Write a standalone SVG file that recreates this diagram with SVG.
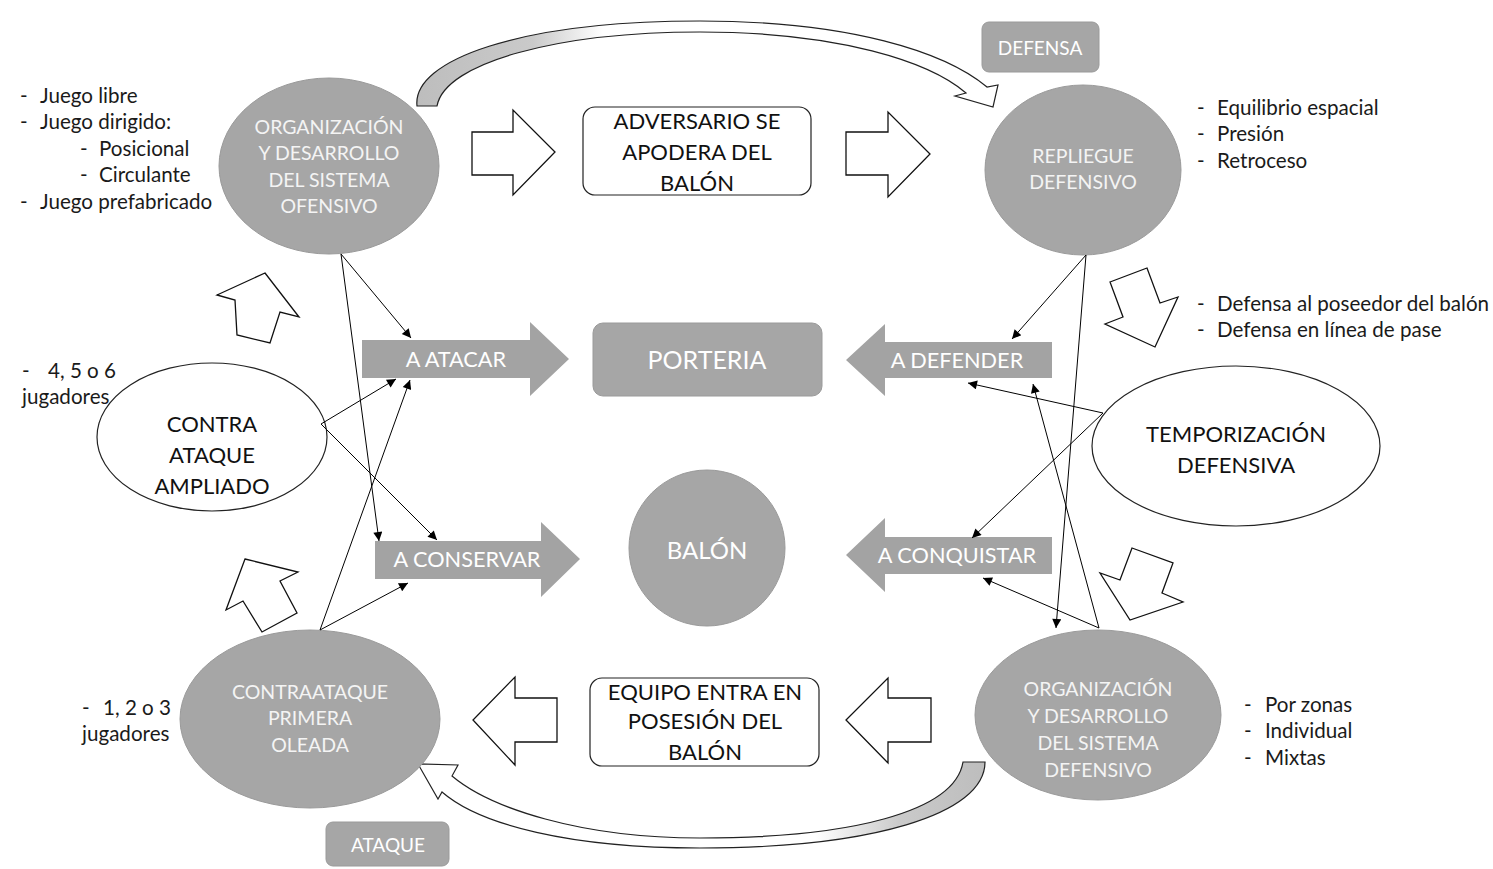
<svg xmlns="http://www.w3.org/2000/svg" width="1493" height="869" viewBox="0 0 1493 869">
  <defs>
    <style>
      text { font-family: Lato, "Open Sans", "Liberation Sans", sans-serif; }
      .gray { fill: #a6a6a6; stroke: #9a9a9a; stroke-width: 1; }
      .white { fill: #ffffff; stroke: #222222; stroke-width: 1.2; }
      .outline { fill: #ffffff; stroke: #111111; stroke-width: 1.3; stroke-linejoin: miter; }
      .band { stroke: #222222; stroke-width: 1.2; stroke-linejoin: miter; }
      .wt { fill: #f4f4f4; font-size: 19.5px; text-anchor: middle; }
      .bt { fill: #111111; font-size: 22px; text-anchor: middle; }
      .lst { fill: #1a1a1a; font-size: 20.6px; }
      .lbl { fill: #ffffff; font-size: 21.7px; text-anchor: middle; }
      .conn line { stroke: #000000; stroke-width: 1; marker-end: url(#tip); }
    </style>
    <marker id="tip" viewBox="0 0 10 10" refX="10" refY="5" markerWidth="11" markerHeight="9" markerUnits="userSpaceOnUse" orient="auto">
      <path d="M0,0 L10,5 L0,10 z" fill="#000000"/>
    </marker>
    <linearGradient id="shadeTop" x1="0" y1="0" x2="1" y2="0">
      <stop offset="0" stop-color="#bdbdbd"/>
      <stop offset="0.2" stop-color="#cacaca"/>
      <stop offset="0.32" stop-color="#ffffff"/>
    </linearGradient>
    <linearGradient id="shadeBottom" x1="1" y1="0" x2="0" y2="0">
      <stop offset="0" stop-color="#bdbdbd"/>
      <stop offset="0.15" stop-color="#cacaca"/>
      <stop offset="0.3" stop-color="#ffffff"/>
    </linearGradient>
  </defs>

  <rect x="0" y="0" width="1493" height="869" fill="#ffffff"/>

  <!-- curved cycle arrows -->
  <g id="curve-defensa">
    <path class="band" fill="url(#shadeTop)" d="M417,106 C412,60 520,21 700,21 C850,21 945,52 987,87 L998,85 L993,107 L955,96 L966,93 C930,62 840,32 700,32 C560,32 445,62 437,106 Z"/>
  </g>
  <g id="curve-ataque">
    <path class="band" fill="url(#shadeBottom)" d="M985,762 C985,815 870,848 700,848 C570,848 480,825 442,792 L438,799 L418,764 L458,765 L452,776 C490,808 580,838 700,838 C850,838 955,812 963,762 Z"/>
  </g>

  <!-- phase boxes -->
  <g id="box-defensa">
    <rect x="982" y="22" width="117" height="50" rx="7" class="gray" stroke="none"/>
    <text x="1040" y="54.5" class="lbl" style="font-size:19px">DEFENSA</text>
  </g>
  <g id="box-ataque">
    <rect x="326" y="822" width="123" height="44" rx="7" class="gray" stroke="none"/>
    <text x="388" y="851.5" class="lbl" style="font-size:19px">ATAQUE</text>
  </g>

  <!-- main phase ellipses -->
  <g id="org-ofensivo">
    <ellipse cx="329" cy="166" rx="110" ry="88" class="gray"/>
    <text class="wt"><tspan x="329" y="133.5">ORGANIZACIÓN</tspan><tspan x="329" y="160">Y DESARROLLO</tspan><tspan x="329" y="186.5">DEL SISTEMA</tspan><tspan x="329" y="213">OFENSIVO</tspan></text>
  </g>
  <g id="repliegue">
    <ellipse cx="1083" cy="170" rx="98" ry="85" class="gray"/>
    <text class="wt"><tspan x="1083" y="163">REPLIEGUE</tspan><tspan x="1083" y="189">DEFENSIVO</tspan></text>
  </g>
  <g id="contraataque">
    <ellipse cx="310" cy="719" rx="130" ry="89" class="gray"/>
    <text class="wt"><tspan x="310" y="699">CONTRAATAQUE</tspan><tspan x="310" y="725">PRIMERA</tspan><tspan x="310" y="752">OLEADA</tspan></text>
  </g>
  <g id="org-defensivo">
    <ellipse cx="1098" cy="715" rx="123" ry="85" class="gray"/>
    <text class="wt"><tspan x="1098" y="696">ORGANIZACIÓN</tspan><tspan x="1098" y="723">Y DESARROLLO</tspan><tspan x="1098" y="750">DEL SISTEMA</tspan><tspan x="1098" y="777">DEFENSIVO</tspan></text>
  </g>
  <g id="contra-ampliado">
    <ellipse cx="212" cy="437" rx="115" ry="74" class="white"/>
    <text class="bt"><tspan x="212" y="432">CONTRA</tspan><tspan x="212" y="463">ATAQUE</tspan><tspan x="212" y="494">AMPLIADO</tspan></text>
  </g>
  <g id="temporizacion">
    <ellipse cx="1236" cy="446" rx="144" ry="80" class="white"/>
    <text class="bt"><tspan x="1236" y="442">TEMPORIZACIÓN</tspan><tspan x="1236" y="473">DEFENSIVA</tspan></text>
  </g>

  <!-- centre -->
  <g id="porteria">
    <rect x="593" y="323" width="229" height="73" rx="10" class="gray" stroke="none"/>
    <text x="707" y="369" class="lbl" style="font-size:25px">PORTERIA</text>
  </g>
  <g id="balon">
    <circle cx="707" cy="548" r="78" class="gray"/>
    <text x="707" y="558.5" class="lbl" style="font-size:24px">BALÓN</text>
  </g>

  <!-- transition boxes -->
  <g id="adversario">
    <rect x="583" y="107" width="228" height="88" rx="12" class="white"/>
    <text class="bt"><tspan x="697" y="128.5">ADVERSARIO SE</tspan><tspan x="697" y="159.5">APODERA DEL</tspan><tspan x="697" y="190.5">BALÓN</tspan></text>
  </g>
  <g id="equipo">
    <rect x="590" y="678" width="229" height="88" rx="12" class="white"/>
    <text class="bt"><tspan x="705" y="699.5">EQUIPO ENTRA EN</tspan><tspan x="705" y="728.5">POSESIÓN DEL</tspan><tspan x="705" y="759.5">BALÓN</tspan></text>
  </g>

  <!-- action arrows -->
  <g id="a-atacar">
    <polygon points="362,340 530,340 530,322 569,359 530,396 530,378 362,378" fill="#a3a3a3"/>
    <text x="456" y="366.5" class="lbl">A ATACAR</text>
  </g>
  <g id="a-conservar">
    <polygon points="375,541 541,541 541,522 580,559 541,597 541,579 375,579" fill="#a3a3a3"/>
    <text x="467" y="566.5" class="lbl">A CONSERVAR</text>
  </g>
  <g id="a-defender">
    <polygon points="1052,342 885,342 885,324 846,360 885,396 885,378 1052,378" fill="#a3a3a3"/>
    <text x="957" y="367.5" class="lbl">A DEFENDER</text>
  </g>
  <g id="a-conquistar">
    <polygon points="1052,537 885,537 885,518 846,555 885,592 885,574 1052,574" fill="#a3a3a3"/>
    <text x="957" y="562.5" class="lbl">A CONQUISTAR</text>
  </g>

  <!-- flow block arrows -->
  <g id="flow-arrows">
    <polygon class="outline" points="472,132 513,132 513,110 555,152 513,195 513,175 472,175"/>
    <polygon class="outline" points="846,132 888,132 888,112 930,154 888,197 888,175 846,175"/>
    <polygon class="outline" points="557,698 515,698 515,677 473,720 515,765 515,742 557,742"/>
    <polygon class="outline" points="931,698 888,698 888,678 846,720 888,763 888,742 931,742"/>
    <polygon class="outline" points="265,273 299,317 280,312 270,343 237,335 235,300 217,295"/>
    <polygon class="outline" points="245,559 298,572 280,581 297,613 262,632 243,601 226,610"/>
    <polygon class="outline" points="1110,282 1147,268 1160,303 1178,297 1155,347 1105,324 1123,317"/>
    <polygon class="outline" points="1132,548 1173,563 1162,593 1183,602 1130,620 1100,573 1120,580"/>
  </g>

  <!-- relation connectors -->
  <g id="connectors" class="conn">
    <line x1="341" y1="254" x2="411" y2="338"/>
    <line x1="341" y1="254" x2="379" y2="541"/>
    <line x1="321" y1="424" x2="396" y2="379"/>
    <line x1="321" y1="424" x2="437" y2="540"/>
    <line x1="320" y1="630" x2="410" y2="380"/>
    <line x1="320" y1="630" x2="408" y2="583"/>
    <line x1="1086" y1="255" x2="1012" y2="339"/>
    <line x1="1086" y1="255" x2="1056" y2="628"/>
    <line x1="1103" y1="413" x2="968" y2="383"/>
    <line x1="1103" y1="413" x2="972" y2="538"/>
    <line x1="1099" y1="628" x2="1033" y2="384"/>
    <line x1="1099" y1="628" x2="983" y2="578"/>
  </g>

  <!-- side notes -->
  <g id="notes-ofensivo" class="lst">
    <text y="102.5"><tspan x="20">-</tspan><tspan x="40">Juego libre</tspan></text>
    <text y="129"><tspan x="20">-</tspan><tspan x="40">Juego dirigido:</tspan></text>
    <text y="155.5"><tspan x="80">-</tspan><tspan x="99">Posicional</tspan></text>
    <text y="182"><tspan x="80">-</tspan><tspan x="99">Circulante</tspan></text>
    <text y="208.5"><tspan x="20">-</tspan><tspan x="40">Juego prefabricado</tspan></text>
  </g>
  <g id="notes-repliegue" class="lst">
    <text y="115"><tspan x="1197">-</tspan><tspan x="1217">Equilibrio espacial</tspan></text>
    <text y="141"><tspan x="1197">-</tspan><tspan x="1217">Presión</tspan></text>
    <text y="168"><tspan x="1197">-</tspan><tspan x="1217">Retroceso</tspan></text>
  </g>
  <g id="notes-temporizacion" class="lst">
    <text y="311"><tspan x="1197">-</tspan><tspan x="1217">Defensa al poseedor del balón</tspan></text>
    <text y="337"><tspan x="1197">-</tspan><tspan x="1217">Defensa en línea de pase</tspan></text>
  </g>
  <g id="notes-defensivo" class="lst">
    <text y="712"><tspan x="1244">-</tspan><tspan x="1265">Por zonas</tspan></text>
    <text y="738"><tspan x="1244">-</tspan><tspan x="1265">Individual</tspan></text>
    <text y="765"><tspan x="1244">-</tspan><tspan x="1265">Mixtas</tspan></text>
  </g>
  <g id="notes-ampliado" class="lst">
    <text y="378"><tspan x="22">-</tspan><tspan x="48">4, 5 o 6</tspan></text>
    <text x="22" y="404">jugadores</text>
  </g>
  <g id="notes-primera" class="lst">
    <text y="715"><tspan x="82">-</tspan><tspan x="103">1, 2 o 3</tspan></text>
    <text x="82" y="741">jugadores</text>
  </g>
</svg>
